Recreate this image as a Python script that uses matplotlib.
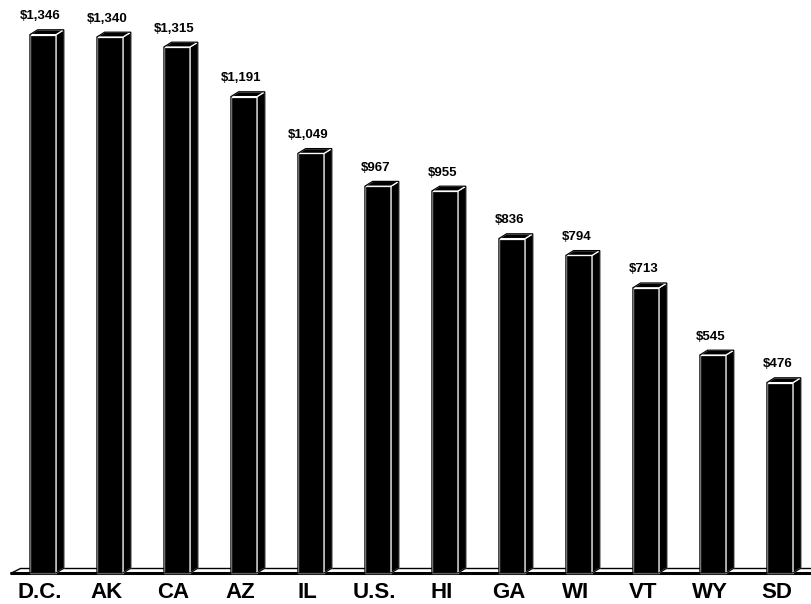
import numpy as np
import matplotlib.pyplot as plt
from matplotlib.patches import Polygon

plt.rcParams.update({
    'font.family': ['Liberation Sans', 'DejaVu Sans'],
    'font.weight': 'bold',
})

states = ['D.C.', 'AK', 'CA', 'AZ', 'IL', 'U.S.', 'HI', 'GA', 'WI', 'VT', 'WY', 'SD']
values = [1346, 1340, 1315, 1191, 1049, 967, 955, 836, 794, 713, 545, 476]

# 3D look: half-width of front face, depth offset in x and y
HW = 0.195
DX, DY = 0.115, 12.0


def draw_bar(ax, x, h):
    x0, x1 = x - HW, x + HW
    faces = [
        [(x0, 0), (x1, 0), (x1, h), (x0, h)],                      # front
        [(x1, 0), (x1 + DX, DY), (x1 + DX, h + DY), (x1, h)],      # side
        [(x0, h), (x1, h), (x1 + DX, h + DY), (x0 + DX, h + DY)],  # top
    ]
    outline = [(x0, 0), (x1, 0), (x1 + DX, DY), (x1 + DX, h + DY),
               (x0 + DX, h + DY), (x0, h)]
    for f in faces:
        ax.add_patch(Polygon(f, closed=True, fc='black', ec='white', lw=0.9, zorder=3))
    ax.add_patch(Polygon(outline, closed=True, fill=False, ec='black', lw=0.9, zorder=4))


fig = plt.figure(figsize=(8.12, 6.04), dpi=100)
ax = fig.add_axes([0, 0, 1, 1])
ax.set_xlim(-0.642, 11.478)
ax.set_ylim(-77.5, 1432.5)
ax.axis('off')

# floor slab
left, right = -0.49, 11.6
floor = [(left, 0), (right, 0), (right, DY * 1.1), (left + 0.15, DY * 1.1)]
ax.add_patch(Polygon(floor, closed=True, fc='white', ec='black', lw=1.0, zorder=1))
ax.plot([left, right], [0, 0], color='black', lw=2.2, zorder=2, solid_capstyle='butt')

for i, (s, v) in enumerate(zip(states, values)):
    draw_bar(ax, i, v)
    ax.text(i - 0.04, v + 46, f'${v:,}', ha='center', va='center',
            fontsize=9.5, fontweight='bold')
    ax.text(i - 0.05, -48, s, ha='center', va='center',
            fontsize=16, fontweight='bold')

fig.savefig('out.png', dpi=100)
